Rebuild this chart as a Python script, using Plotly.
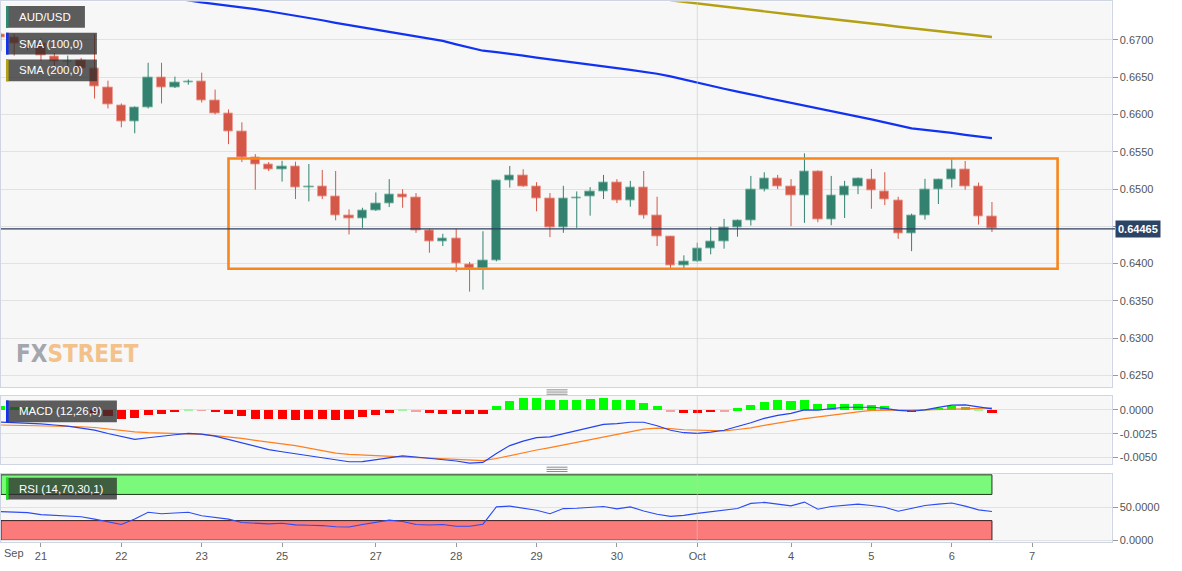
import plotly.graph_objects as go

W, H = 1182, 571

# ---------------- data (AUD/USD, 4-hour candles, candle index 0..74) ----------------
opens = [0.6708, 0.67027, 0.6691, 0.66947, 0.66774, 0.66705, 0.6672, 0.66614, 0.66361, 0.66121,
         0.65908, 0.66095, 0.66494, 0.66361, 0.66430, 0.66441, 0.66188, 0.66015, 0.65775, 0.65429,
         0.65329, 0.65262, 0.65306, 0.65025, 0.65039, 0.64897, 0.64647, 0.64603, 0.64719, 0.64812,
         0.64923, 0.64888, 0.64444, 0.64301, 0.64338, 0.63993, 0.63935, 0.64037, 0.65111, 0.65176,
         0.65034, 0.64870, 0.64480, 0.64875, 0.64897, 0.64963, 0.65087, 0.64848, 0.65020, 0.64647,
         0.64361, 0.63969, 0.64026, 0.64204, 0.64301, 0.64480, 0.64582, 0.64999, 0.65146, 0.65034,
         0.64910, 0.65242, 0.64590, 0.64919, 0.65030, 0.65133, 0.64968, 0.64848, 0.64404, 0.64643,
         0.64999, 0.65123, 0.65266, 0.65034, 0.64626]
highs = [0.6710, 0.6708, 0.6694, 0.67027, 0.66827, 0.6679, 0.6676, 0.6708, 0.66454, 0.66148,
         0.66108, 0.66694, 0.66694, 0.66508, 0.6647, 0.66561, 0.66334, 0.66068, 0.65895, 0.65469,
         0.65362, 0.65380, 0.65367, 0.65336, 0.65256, 0.65242, 0.64727, 0.64749, 0.64954, 0.65133,
         0.64999, 0.64946, 0.64466, 0.64400, 0.64466, 0.64023, 0.64434, 0.65124, 0.65310, 0.65266,
         0.65092, 0.64946, 0.65043, 0.64968, 0.65026, 0.65190, 0.65133, 0.65110, 0.65242, 0.64897,
         0.64370, 0.64111, 0.64280, 0.64493, 0.64600, 0.64590, 0.65176, 0.65225, 0.65190, 0.65133,
         0.65478, 0.65250, 0.65176, 0.65110, 0.65154, 0.65270, 0.65225, 0.64897, 0.64670, 0.65137,
         0.65137, 0.65411, 0.65376, 0.65087, 0.64826]
lows = [0.6685, 0.6679, 0.6686, 0.6672, 0.66627, 0.6663, 0.66547, 0.66214, 0.66081, 0.65828,
        0.65748, 0.66081, 0.66148, 0.66355, 0.6640, 0.66161, 0.66001, 0.65602, 0.65362, 0.64992,
        0.65242, 0.65100, 0.64866, 0.64834, 0.64866, 0.64580, 0.64391, 0.64480, 0.64706, 0.64758,
        0.64749, 0.64413, 0.64146, 0.64235, 0.63890, 0.63624, 0.63650, 0.64030, 0.65020, 0.65030,
        0.64701, 0.64355, 0.64413, 0.64480, 0.64643, 0.64866, 0.64812, 0.64763, 0.64603, 0.64235,
        0.63925, 0.63925, 0.64020, 0.64124, 0.64200, 0.64361, 0.64511, 0.64968, 0.64999, 0.64502,
        0.64547, 0.64555, 0.64515, 0.64612, 0.64932, 0.64736, 0.64785, 0.64333, 0.64167, 0.64590,
        0.64799, 0.65020, 0.64990, 0.64523, 0.64424]
closes = [0.6703, 0.66947, 0.6690, 0.66787, 0.66707, 0.66715, 0.66614, 0.66374, 0.66134, 0.65908,
          0.66095, 0.66494, 0.66361, 0.66428, 0.66440, 0.66188, 0.66015, 0.65775, 0.65429, 0.65336,
          0.65262, 0.65306, 0.65020, 0.65035, 0.64905, 0.64647, 0.64603, 0.64719, 0.64812, 0.64923,
          0.64893, 0.64448, 0.64301, 0.64341, 0.63999, 0.63935, 0.64037, 0.65111, 0.65176, 0.65034,
          0.64870, 0.64480, 0.64870, 0.64885, 0.64963, 0.65087, 0.64843, 0.65020, 0.64652, 0.64361,
          0.63969, 0.64026, 0.64204, 0.64301, 0.64480, 0.64582, 0.64999, 0.65146, 0.65034, 0.64910,
          0.65242, 0.64590, 0.64914, 0.65030, 0.65137, 0.64977, 0.64857, 0.64404, 0.64643, 0.64999,
          0.65123, 0.65266, 0.65034, 0.64626, 0.64465]

sma100_first_idx = 13
sma100 = [0.6757, 0.6753, 0.67504, 0.67484, 0.67464, 0.67442, 0.67414, 0.67385, 0.67357, 0.67326,
          0.67294, 0.67264, 0.67230, 0.67200, 0.67169, 0.67142, 0.67114, 0.67084, 0.67053, 0.67021,
          0.66987, 0.66941, 0.66899, 0.66856, 0.66836, 0.66816, 0.66790, 0.66764, 0.66739, 0.66712,
          0.66689, 0.66666, 0.66643, 0.66622, 0.66599, 0.66574, 0.66547, 0.66512, 0.66468, 0.66425,
          0.66386, 0.66345, 0.66306, 0.66269, 0.66235, 0.66200, 0.66164, 0.66128, 0.66091, 0.66051,
          0.66014, 0.65974, 0.65934, 0.65894, 0.65851, 0.65814, 0.65793, 0.65775, 0.65753, 0.65728,
          0.65705, 0.65682]
sma200_first_idx = 50
sma200 = [0.67533, 0.67511, 0.67487, 0.67465, 0.67442, 0.67419, 0.67399, 0.67379, 0.67361, 0.67341,
          0.67322, 0.67303, 0.67283, 0.67264, 0.67241, 0.67221, 0.67200, 0.67178, 0.67158, 0.67138,
          0.67118, 0.67098, 0.67079, 0.67060, 0.67040]

macd_line = [-0.00128, -0.00133, -0.00140, -0.00148, -0.00159, -0.00170, -0.00191, -0.00212, -0.00248, -0.00279,
             -0.00309, -0.00293, -0.00274, -0.00261, -0.00247, -0.00254, -0.00276, -0.00313, -0.00344, -0.00388,
             -0.00417, -0.00440, -0.00460, -0.00479, -0.00502, -0.00525, -0.00545, -0.00543, -0.00521, -0.00504,
             -0.00483, -0.00495, -0.00508, -0.00521, -0.00537, -0.00559, -0.00552, -0.00458, -0.00375, -0.00328,
             -0.00292, -0.00284, -0.00253, -0.00222, -0.00188, -0.00153, -0.00144, -0.00130, -0.00130, -0.00167,
             -0.00214, -0.00240, -0.00246, -0.00234, -0.00214, -0.00177, -0.00135, -0.00089, -0.00057, -0.00036,
             0.00000, -0.00003, 0.00013, 0.00028, 0.00028, 0.00028, 0.00016, -0.00005, -0.00014, 0.00000,
             0.00026, 0.00050, 0.00052, 0.00029, 0.00010]
signal_line = [-0.00159, -0.00162, -0.00165, -0.00167, -0.00169, -0.00170, -0.00177, -0.00185, -0.00201, -0.00214,
               -0.00232, -0.00240, -0.00243, -0.00246, -0.00247, -0.00257, -0.00271, -0.00284, -0.00300, -0.00320,
               -0.00341, -0.00357, -0.00375, -0.00401, -0.00429, -0.00454, -0.00468, -0.00475, -0.00481, -0.00488,
               -0.00491, -0.00499, -0.00506, -0.00514, -0.00521, -0.00528, -0.00534, -0.00511, -0.00481, -0.00448,
               -0.00422, -0.00396, -0.00368, -0.00344, -0.00313, -0.00281, -0.00257, -0.00231, -0.00203, -0.00191,
               -0.00196, -0.00209, -0.00214, -0.00217, -0.00220, -0.00206, -0.00190, -0.00162, -0.00135, -0.00115,
               -0.00092, -0.00073, -0.00052, -0.00039, -0.00021, -0.00005, 0.00000, -0.00002, -0.00003, -0.00001,
               0.00002, 0.00005, 0.00010, 0.00016, 0.00021]
macd_hist = [0.0004, 0.0003, 0.0002, 0.0001, 0.0001, 0.00003, -0.0001, -0.0003, -0.0006,
             -0.0009, -0.00083, -0.0005, -0.00038, -0.00022, 0.00008, -0.00008, -0.00015, -0.00038, -0.0006,
             -0.0009, -0.0009, -0.00094, -0.00101, -0.00094, -0.00094, -0.00101, -0.0009, -0.00073, -0.00056,
             -0.0003, 0.00005, -0.0001, -0.0003, -0.00038, -0.00038, -0.00045, -0.00038, 0.0004, 0.0010,
             0.00128, 0.00128, 0.00104, 0.00111, 0.00111, 0.00118, 0.00122, 0.00108, 0.00108, 0.00076,
             0.00038, -0.0001, -0.00031, -0.00031, -0.00024, -0.0001, 0.00017, 0.00056, 0.00087, 0.00101,
             0.00094, 0.00111, 0.00069, 0.00066, 0.00066, 0.00069, 0.00056, 0.00038, 0.0001, -0.00015,
             0.00005, 0.00024, 0.00042, 0.00035, 0.0001, -0.00028]
rsi = [43.8, 43.0, 42.2, 39.1, 38.0, 37.5, 35.9, 32.3, 27.6, 24.0,
       32.3, 42.7, 40.6, 42.2, 42.7, 37.5, 34.9, 32.3, 27.1, 25.5,
       25.0, 26.0, 23.4, 22.9, 22.4, 20.6, 20.2, 24.0, 27.1, 30.7,
       28.6, 24.0, 23.3, 24.0, 21.3, 21.3, 24.5, 51.0, 52.1, 49.5,
       45.8, 40.6, 48.4, 49.0, 50.0, 51.6, 47.9, 51.0, 44.8, 39.6,
       36.5, 38.0, 41.1, 43.8, 46.4, 48.4, 56.3, 57.8, 55.2, 52.6,
       58.3, 47.4, 51.6, 53.6, 55.2, 53.1, 50.5, 44.3, 48.4, 53.1,
       55.2, 56.8, 52.1, 46.4, 43.8]

day_tick_idx = [0, 3, 9, 15, 21, 28, 34, 40, 46, 52, 59, 65, 71, 77]
day_tick_text = ["", "21", "22", "23", "25", "27", "28", "29", "30", "Oct", "4", "5", "6", "7"]
month_label = "Sep"
month_start_idx = 52

price_ticks = [0.6250, 0.6300, 0.6350, 0.6400, 0.6450, 0.6500, 0.6550, 0.6600, 0.6650, 0.6700]
macd_ticks = [0.0, -0.0025, -0.0050]
macd_tick_text = ["0.0000", "-0.0025", "-0.0050"]
rsi_ticks = [0, 50]
rsi_tick_text = ["0.0000", "50.0000"]

last_price = 0.64465
range_top, range_bottom = 0.6541, 0.6393
range_start_idx, range_end_idx = 17.0, 78.9
rsi_upper, rsi_lower = 70, 30

# ---------------- styling ----------------
GREEN = "#338270"
RED = "#d45848"
GREEN_EDGE = "rgba(140,190,175,0.9)"
RED_EDGE = "rgba(236,160,150,0.9)"
BORDER = "#cfd5e2"
GRID = "#e2e2e2"
FONT = "Liberation Sans, Arial, sans-serif"
TICKFONT = dict(family=FONT, size=11, color="#555555")


def px(x):
    return x / W


def py(y):
    return 1 - y / H


XD = 1111.5 / W
X0, X1 = 0.015, 82.93
MAIN_DOM = [py(389.3), py(0.5)]
MACD_DOM = [py(467.3), py(398.3)]
RSI_DOM = [py(545.5), py(476.7)]

fig = go.Figure()
n = len(closes)
idx = list(range(n))
up = [i for i in idx if closes[i] >= opens[i]]
dn = [i for i in idx if closes[i] < opens[i]]


def wicks(ids, color):
    xs, ys = [], []
    for i in ids:
        xs += [i, i, None]
        ys += [lows[i], highs[i], None]
    fig.add_trace(go.Scatter(x=xs, y=ys, mode="lines", line=dict(color=color, width=1),
                             hoverinfo="skip", showlegend=False, xaxis="x", yaxis="y"))


def bodies(ids, color, edge):
    fig.add_trace(go.Bar(x=ids,
                         y=[abs(closes[i] - opens[i]) for i in ids],
                         base=[min(opens[i], closes[i]) for i in ids],
                         width=0.7,
                         marker=dict(color=color, line=dict(color=edge, width=1)),
                         showlegend=False, xaxis="x", yaxis="y"))


wicks(up, GREEN)
wicks(dn, RED)
bodies(up, GREEN, GREEN_EDGE)
bodies(dn, RED, RED_EDGE)

fig.add_trace(go.Scatter(x=list(range(sma100_first_idx, sma100_first_idx + len(sma100))), y=sma100,
                         mode="lines", line=dict(color="#1232f2", width=2.2), showlegend=False,
                         xaxis="x", yaxis="y"))
fig.add_trace(go.Scatter(x=list(range(sma200_first_idx, sma200_first_idx + len(sma200))), y=sma200,
                         mode="lines", line=dict(color="#b3a014", width=2.4), showlegend=False,
                         xaxis="x", yaxis="y"))


def hist_color(v):
    if abs(v) < 0.00012:
        return "#a6f2a6" if v >= 0 else "#f4a3a3"
    return "#00ff00" if v >= 0 else "#ff0000"


fig.add_trace(go.Bar(x=idx, y=macd_hist, width=0.68,
                     marker=dict(color=[hist_color(v) for v in macd_hist], line=dict(width=0)),
                     showlegend=False, xaxis="x2", yaxis="y2"))
fig.add_trace(go.Scatter(x=idx, y=signal_line, mode="lines", line=dict(color="#ff7f1e", width=1.2),
                         showlegend=False, xaxis="x2", yaxis="y2"))
fig.add_trace(go.Scatter(x=idx, y=macd_line, mode="lines", line=dict(color="#2443ee", width=1.2),
                         showlegend=False, xaxis="x2", yaxis="y2"))
fig.add_trace(go.Scatter(x=idx, y=rsi, mode="lines", line=dict(color="#2c4cf5", width=1.1),
                         showlegend=False, xaxis="x3", yaxis="y3"))

xcommon = dict(domain=[0, XD], range=[X0, X1], showgrid=False, zeroline=False,
               showline=True, mirror=True, linecolor=BORDER, linewidth=1)
ycommon = dict(side="right", ticks="outside", ticklen=5, tickcolor="#999999",
               showgrid=True, gridcolor=GRID, gridwidth=1, zeroline=False,
               showline=True, mirror=True, linecolor=BORDER, linewidth=1,
               tickfont=TICKFONT, fixedrange=True)

fig.update_layout(
    width=W, height=H,
    margin=dict(l=0, r=0, t=0, b=0),
    paper_bgcolor="#ffffff",
    plot_bgcolor="#f7f7f7",
    barmode="overlay",
    bargap=0,
    showlegend=False,
    hovermode=False,
    xaxis=dict(xcommon, anchor="y", showticklabels=False, ticks=""),
    xaxis2=dict(xcommon, anchor="y2", matches="x", showticklabels=False, ticks=""),
    xaxis3=dict(xcommon, anchor="y3", matches="x", tickmode="array",
                tickvals=day_tick_idx, ticktext=day_tick_text,
                ticks="outside", ticklen=4, tickcolor="#999999", tickfont=TICKFONT),
    yaxis=dict(ycommon, anchor="x", domain=MAIN_DOM, range=[0.62346, 0.67516],
               tickmode="array", tickvals=price_ticks,
               ticktext=["" if abs(t - 0.645) < 1e-9 else f"{t:.4f}" for t in price_ticks]),
    yaxis2=dict(ycommon, anchor="x2", domain=MACD_DOM, range=[-0.00571, 0.00148],
                tickmode="array", tickvals=macd_ticks, ticktext=macd_tick_text),
    yaxis3=dict(ycommon, anchor="x3", domain=RSI_DOM, range=[-2.3, 102],
                tickmode="array", tickvals=rsi_ticks, ticktext=rsi_tick_text),
)

shapes = []
# RSI bands
shapes.append(dict(type="rect", xref="x3", yref="y3", x0=X0, x1=n - 1, y0=rsi_upper, y1=100,
                   fillcolor="#7bf97b", line=dict(color="#1f3a1f", width=1), layer="below"))
shapes.append(dict(type="rect", xref="x3", yref="y3", x0=X0, x1=n - 1, y0=0, y1=rsi_lower,
                   fillcolor="#fb7b7b", line=dict(color="#3a1f1f", width=1), layer="below"))
# month separator gridline
for xr, yr in (("x", "y domain"), ("x2", "y2 domain"), ("x3", "y3 domain")):
    shapes.append(dict(type="line", xref=xr, yref=yr, x0=month_start_idx, x1=month_start_idx,
                       y0=0, y1=1, line=dict(color="rgba(200,200,200,0.6)", width=1), layer="above"))
# trading range box
shapes.append(dict(type="rect", xref="x", yref="y", x0=range_start_idx, x1=range_end_idx,
                   y0=range_bottom, y1=range_top, line=dict(color="#f7861c", width=2.6),
                   fillcolor="rgba(0,0,0,0)", layer="above"))
# last price line
shapes.append(dict(type="line", xref="paper", yref="y", x0=0, x1=px(1115), y0=last_price, y1=last_price,
                   line=dict(color="#2c3e5c", width=1.3), layer="above"))
# legend boxes
boxes = [(5, 84, 5, 27, "#2f8a74"), (5, 96, 32, 54, "#1232f2"), (5, 96, 59, 81, "#b3a014"),
         (5, 116, 403, 425, "#1232f2"), (5, 116, 481, 503, "#22dd22")]
for x0, x1, y0, y1, c in boxes:
    shapes.append(dict(type="rect", xref="paper", yref="paper", x0=px(x0), x1=px(x1), y0=py(y1), y1=py(y0),
                       fillcolor="rgba(45,45,45,0.77)", line=dict(width=0), layer="above"))
    shapes.append(dict(type="rect", xref="paper", yref="paper", x0=px(x0), x1=px(x0 + 2.6), y0=py(y1),
                       y1=py(y0), fillcolor=c, line=dict(width=0), layer="above"))
# pane resize handles
for yc in (394.5, 472.5):
    for dy in (-2.2, 0, 2.2):
        shapes.append(dict(type="line", xref="paper", yref="paper", x0=px(546), x1=px(567),
                           y0=py(yc + dy), y1=py(yc + dy), line=dict(color="#8a8a8a", width=1)))
fig.update_layout(shapes=shapes)

ann = []
legend_texts = [("AUD/USD", 16), ("SMA (100,0)", 43), ("SMA (200,0)", 70),
                ("MACD (12,26,9)", 414), ("RSI (14,70,30,1)", 492)]
for t, yc in legend_texts:
    ann.append(dict(text=t, xref="paper", yref="paper", x=px(16), y=py(yc), xanchor="left",
                    yanchor="middle", showarrow=False, font=dict(family=FONT, size=11.5, color="#ffffff")))
ann.append(dict(text="<b>0.64465</b>", xref="paper", yref="y", x=px(1115), y=last_price,
                xanchor="left", yanchor="middle", showarrow=False, bgcolor="#2b4466",
                borderpad=2, font=dict(family=FONT, size=11, color="#ffffff")))
ann.append(dict(text=month_label, xref="paper", yref="paper", x=px(1), y=py(557), xanchor="left",
                yanchor="middle", showarrow=False, font=TICKFONT))
ann.append(dict(text="<b><span style='color:#a3a6ad'>FX</span><span style='color:#f3c18a'>STREET</span></b>",
                xref="paper", yref="paper", x=px(13), y=py(356), xanchor="left", yanchor="middle",
                showarrow=False,
                font=dict(family="Liberation Sans Narrow, DejaVu Sans Condensed, Roboto Condensed, sans-serif",
                          size=24)))
fig.update_layout(annotations=ann)

fig.write_html("out.html", include_plotlyjs=True, config={"displayModeBar": False},
               post_script="document.body.style.margin='0';document.body.style.padding='0';")
